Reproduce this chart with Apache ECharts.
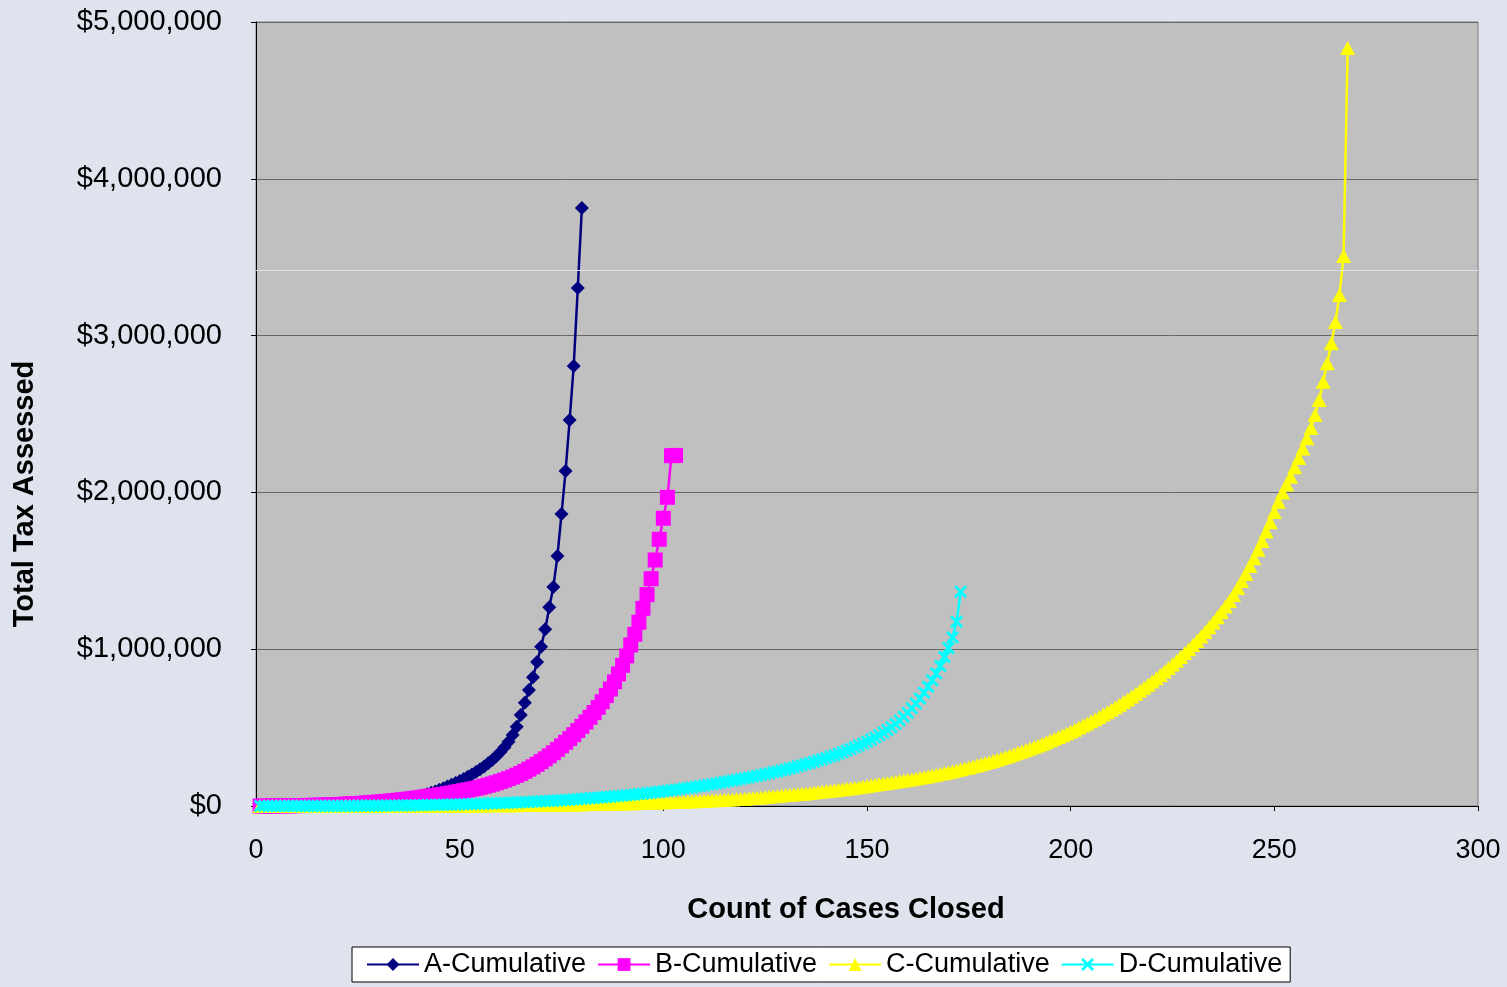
<!DOCTYPE html>
<html>
<head>
<meta charset="utf-8">
<title>Total Tax Assessed vs Count of Cases Closed</title>
<script src="https://cdn.jsdelivr.net/npm/echarts@6/dist/echarts.min.js"></script>
<style>
  html, body { margin: 0; padding: 0; background: #dfe3ee; }
  #main { width: 1507px; height: 987px; }
</style>
</head>
<body>
<div id="main"></div>
<script>
// cumulative tax assessed, in thousands of dollars, one value per closed case (case 1, 2, 3 ...)
var aCum = [
  0.01, 0.03, 0.06, 0.12, 0.2, 0.3, 0.45, 0.6, 0.8, 1,
  1.3, 1.6, 2, 2.4, 2.9, 3.4, 4, 4.6, 5.3, 6.1,
  7, 8, 9.1, 10.3, 11.6, 13, 14.5, 16.2, 18, 20,
  22.3, 24.8, 27.5, 30.5, 34, 38, 42.5, 47.5, 53.5, 60,
  67, 75, 84, 93, 103, 113, 124, 135, 147, 159,
  172, 186, 201, 217, 234, 252, 272, 294, 318, 345,
  375, 410, 453, 506, 580, 659, 740, 821, 918, 1016,
  1127, 1267, 1397, 1594, 1862, 2136, 2462, 2806, 3304, 3814
];
var bCum = [
  0.05, 0.12, 0.25, 0.4, 0.6, 0.8, 1.1, 1.4, 1.8, 2.2,
  2.7, 3.2, 3.8, 4.4, 5.1, 5.8, 6.6, 7.5, 8.4, 9.4,
  10.5, 11.7, 13, 14.4, 15.9, 17.5, 19.2, 21, 23, 25.1,
  27.3, 29.6, 32, 34.5, 37.2, 40, 43, 46, 49.2, 52.5,
  56, 59.5, 63.2, 67, 71, 75, 79, 83.5, 88, 92.5,
  97.5, 102.5, 107.5, 113, 119, 125.5, 132.5, 140, 148, 156.5,
  165.5, 175, 185, 196, 208, 221, 235, 250, 266, 283,
  301, 320, 340, 361, 383, 406, 430, 455, 481, 508,
  536, 566, 596, 629, 665, 704, 746, 792, 842, 897,
  957, 1027, 1095, 1172, 1261, 1348, 1450, 1569, 1701, 1835,
  1969, 2234, 2236
];
var cCum = [
  0.02, 0.04, 0.06, 0.09, 0.12, 0.15, 0.18, 0.21, 0.24, 0.27,
  0.3, 0.34, 0.38, 0.42, 0.46, 0.5, 0.55, 0.6, 0.65, 0.7,
  0.75, 0.8, 0.85, 0.9, 0.95, 1, 1.05, 1.1, 1.2, 1.25,
  1.3, 1.4, 1.45, 1.5, 1.6, 1.7, 1.75, 1.8, 1.9, 2,
  2.1, 2.2, 2.3, 2.4, 2.5, 2.6, 2.7, 2.8, 2.9, 3.1,
  3.2, 3.3, 3.5, 3.6, 3.8, 3.9, 4.1, 4.3, 4.5, 4.7,
  4.9, 5.1, 5.3, 5.5, 5.7, 6, 6.2, 6.5, 6.8, 7.1,
  7.4, 7.7, 8, 8.4, 8.8, 9.2, 9.6, 10, 10.5, 11,
  11.5, 12, 12.5, 13, 13.5, 14, 14.5, 15, 15.5, 16,
  17, 17.5, 18, 19, 19.5, 20, 21, 22, 23, 24,
  24.5, 25, 26, 27, 28, 29, 30, 31, 32, 33,
  35, 36, 37, 38, 40, 41, 42, 44, 45, 47,
  49, 51, 53, 55, 57, 60, 62, 64, 67, 70,
  72, 74, 76, 78, 80, 83, 86, 89, 92, 95,
  98, 101, 104, 107, 110, 113, 116, 120, 124, 128,
  132, 136, 140, 143, 147, 151, 155, 159, 163, 167,
  171, 175, 180, 185, 190, 195, 200, 205, 210, 216,
  222, 228, 234, 240, 246, 253, 260, 267, 274, 281,
  289, 297, 305, 313, 321, 330, 339, 348, 357, 366,
  376, 386, 396, 407, 418, 429, 440, 451, 463, 475,
  487, 500, 513, 526, 540, 554, 568, 583, 598, 614,
  630, 646, 663, 680, 698, 716, 735, 754, 774, 794,
  815, 836, 858, 880, 903, 926, 950, 975, 1000, 1026,
  1053, 1081, 1110, 1140, 1170, 1203, 1237, 1272, 1308, 1345,
  1390, 1435, 1480, 1530, 1580, 1635, 1690, 1750, 1810, 1875,
  1940, 2000, 2050, 2100, 2160, 2220, 2280, 2345, 2410, 2494,
  2589, 2706, 2823, 2951, 3087, 3259, 3508, 4834
];
var dCum = [
  0.0005, 0.001, 0.002, 0.003, 0.005, 0.008, 0.012, 0.018, 0.025, 0.035,
  0.045, 0.06, 0.08, 0.1, 0.13, 0.16, 0.2, 0.24, 0.29, 0.35,
  0.42, 0.5, 0.6, 0.7, 0.8, 0.9, 1.05, 1.2, 1.4, 1.6,
  1.8, 2, 2.3, 2.6, 2.9, 3.2, 3.5, 3.9, 4.3, 4.7,
  5.1, 5.6, 6.1, 6.6, 7.1, 7.7, 8.3, 8.9, 9.5, 10.2,
  10.9, 11.6, 12.4, 13.2, 14, 14.8, 15.7, 16.6, 17.5, 18.5,
  19.5, 20.5, 21.6, 22.7, 23.8, 25, 26.2, 27.4, 28.7, 30,
  31.3, 32.7, 34.1, 35.6, 37.1, 38.7, 40.3, 42, 43.7, 45.5,
  47.3, 49.2, 51.1, 53.1, 55.1, 57.2, 59.3, 61.5, 63.7, 66,
  68.3, 70.7, 73.2, 75.8, 78.5, 81.3, 84.2, 87.2, 90.3, 93.5,
  96.8, 100.2, 103.7, 107.3, 111, 114.8, 118.7, 122.7, 126.8, 131,
  135.2, 139.5, 144, 148.5, 153, 157.7, 162.4, 167.2, 172, 177,
  182, 187, 192, 197.5, 203, 208.5, 214.5, 220.5, 226.5, 233,
  239.5, 246, 253, 260, 267, 274.5, 282, 290, 298, 306.5,
  315, 324, 333, 342.5, 352.5, 363, 374, 385.5, 397.5, 410,
  423, 437, 452, 468, 485, 503, 523, 545, 569, 595,
  623, 653, 686, 722, 761, 802, 845, 893, 950, 1008,
  1075, 1175, 1367
];

var seriesNames = ['A-Cumulative', 'B-Cumulative', 'C-Cumulative', 'D-Cumulative'];
var xTicks = [0, 50, 100, 150, 200, 250, 300];
var yTicks = [0, 1000000, 2000000, 3000000, 4000000, 5000000];

var FONT = '"Liberation Sans", Arial, sans-serif';
// excel's "x" marker, drawn as a filled cross
var X_MARK = 'path://M0,1.5 L1.5,0 L5,3.5 L8.5,0 L10,1.5 L6.5,5 L10,8.5 L8.5,10 L5,6.5 L1.5,10 L0,8.5 L3.5,5 Z';

// case number -> [case, dollars]
function toPoints(arr) {
  return arr.map(function (v, i) { return [i + 1, v * 1000]; });
}

function money(v) {
  return '$' + Math.round(v).toString().replace(/\B(?=(\d{3})+(?!\d))/g, ',');
}

function lineSeries(name, data, color, symbol, size) {
  return {
    name: name,
    type: 'line',
    data: toPoints(data),
    color: color,
    symbol: symbol,
    symbolSize: size,
    lineStyle: { color: color, width: 2.5 },
    itemStyle: { color: color, borderColor: color, borderWidth: 0 },
    emphasis: { disabled: true },
    animation: false
  };
}

var chart = echarts.init(document.getElementById('main'));

var series = [
  lineSeries(seriesNames[0], aCum, '#000080', 'diamond', 14),
  lineSeries(seriesNames[1], bCum, '#ff00ff', 'rect', 15),
  lineSeries(seriesNames[2], cCum, '#ffff00', 'triangle', [15, 14]),
  lineSeries(seriesNames[3], dCum, '#00ffff', X_MARK, 13)
];
// the faint light rule that crosses the plot area in the original
series[0].markLine = {
  silent: true,
  symbol: 'none',
  label: { show: false },
  lineStyle: { color: '#dde2ee', width: 1, type: 'solid' },
  data: [{ yAxis: 3418000 }]
};

chart.setOption({
  backgroundColor: '#dfe3ee',
  animation: false,
  textStyle: { fontFamily: FONT },
  grid: {
    left: 256, right: 29, top: 22, bottom: 181,
    show: true,
    backgroundColor: '#c0c0c0',
    borderColor: '#808080',
    borderWidth: 1
  },
  legend: {
    data: seriesNames,
    left: 352,
    top: 947,
    padding: [4, 8, 4, 14],
    itemGap: 11,
    itemWidth: 52,
    itemHeight: 16,
    backgroundColor: '#ffffff',
    borderColor: '#000000',
    borderWidth: 1,
    textStyle: { fontSize: 27, color: '#000', fontFamily: FONT }
  },
  xAxis: {
    type: 'value',
    min: xTicks[0],
    max: xTicks[xTicks.length - 1],
    interval: 50,
    name: 'Count of Cases Closed',
    nameLocation: 'middle',
    nameGap: 89,
    nameTextStyle: {
      fontSize: 29, fontWeight: 'bold', color: '#000', fontFamily: FONT,
      padding: [0, 42, 0, 0]
    },
    axisLine: { lineStyle: { color: '#000', width: 1 } },
    axisTick: { show: true, length: 5, lineStyle: { color: '#000' } },
    axisLabel: { fontSize: 27, color: '#000', margin: 31, fontFamily: FONT },
    splitLine: { show: false }
  },
  yAxis: {
    type: 'value',
    min: yTicks[0],
    max: yTicks[yTicks.length - 1],
    interval: 1000000,
    name: 'Total Tax Assessed',
    nameLocation: 'middle',
    nameGap: 217,
    nameRotate: 90,
    nameTextStyle: {
      fontSize: 29, fontWeight: 'bold', color: '#000', fontFamily: FONT,
      padding: [0, 160, 0, 0]
    },
    axisLine: { show: true, lineStyle: { color: '#000', width: 1 } },
    axisTick: { show: true, length: 5, lineStyle: { color: '#000' } },
    axisLabel: { fontSize: 29, color: '#000', margin: 34, formatter: money, fontFamily: FONT },
    splitLine: { show: true, lineStyle: { color: '#666666', width: 1 } }
  },
  series: series
});
</script>
</body>
</html>
